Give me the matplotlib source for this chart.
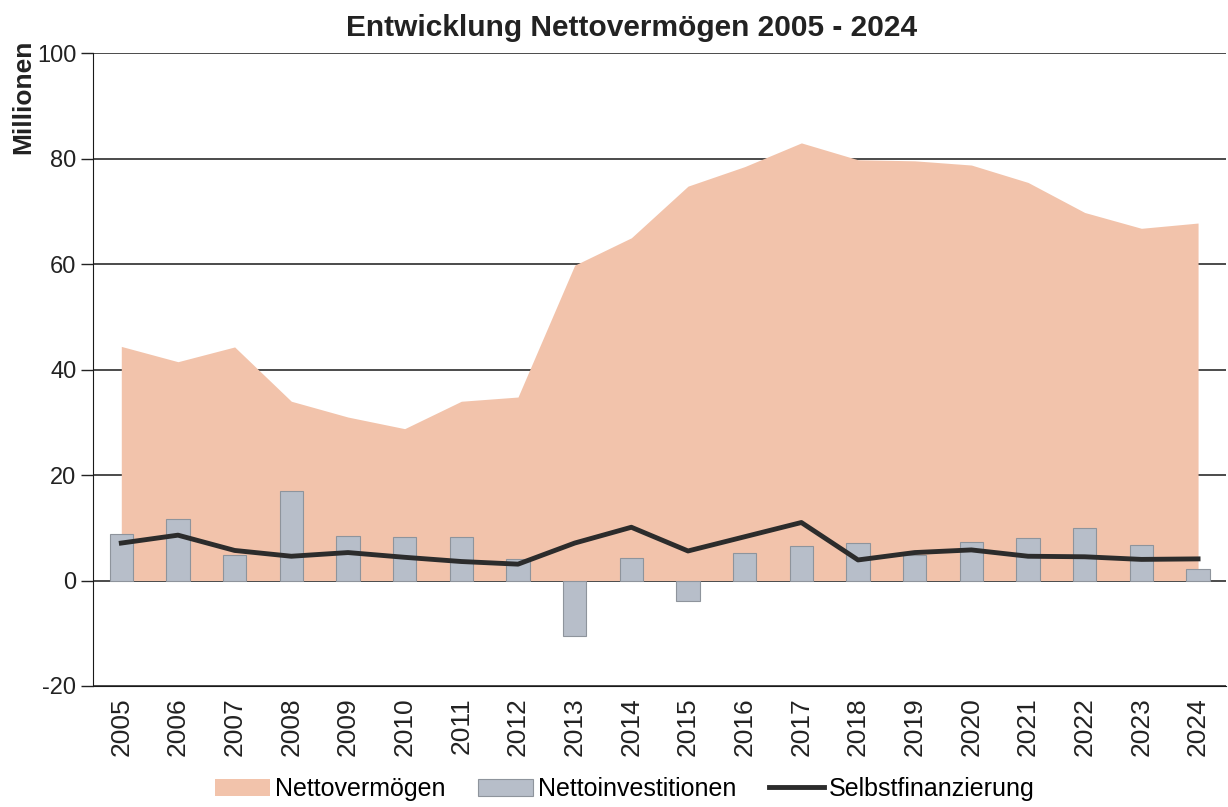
import matplotlib
matplotlib.use("Agg")
import matplotlib.pyplot as plt
import numpy as np

plt.rcParams["font.family"] = ["Liberation Sans", "DejaVu Sans"]
plt.rcParams["axes.unicode_minus"] = False

# Data (Millionen)
years = [str(y) for y in range(2005, 2025)]
nettovermoegen = [44.4, 41.5, 44.3, 34.0, 31.0, 28.8, 34.0, 34.8, 59.8, 65.0,
                  74.8, 78.5, 83.0, 79.8, 79.6, 78.8, 75.5, 69.8, 66.8, 67.8]
nettoinvestitionen = [8.9, 11.6, 4.9, 17.0, 8.4, 8.3, 8.3, 4.1, -10.6, 4.2,
                      -3.9, 5.2, 6.6, 7.1, 4.8, 7.3, 8.1, 10.0, 6.7, 2.2]
selbstfinanzierung = [7.1, 8.6, 5.7, 4.6, 5.3, 4.4, 3.6, 3.1, 7.1, 10.1,
                      5.6, 8.3, 11.0, 3.9, 5.3, 5.8, 4.6, 4.5, 4.0, 4.1]
y_ticks = [-20, 0, 20, 40, 60, 80, 100]


def plot_chart() -> None:
    fig = plt.figure(figsize=(12.28, 8.07), dpi=100)
    ax = fig.add_axes([0.0757, 0.150, 0.923, 0.784])

    x = np.arange(len(years))

    # Area, bars and line
    area = ax.fill_between(x, 0, nettovermoegen, color="#f2c3ab",
                           linewidth=0, zorder=2, label="Nettovermögen")
    bars = ax.bar(x, nettoinvestitionen, width=0.41, color="#b7bec9",
                  edgecolor="#8e949c", linewidth=0.8, zorder=3,
                  label="Nettoinvestitionen")
    line, = ax.plot(x, selbstfinanzierung, color="#2c2c2c", linewidth=3.5,
                    zorder=4, label="Selbstfinanzierung")

    # Axes styling
    ax.set_xlim(-0.5, len(years) - 0.5)
    ax.set_ylim(-20, 100)
    ax.set_yticks(y_ticks)
    ax.set_xticks(x)
    ax.set_xticklabels(years, rotation=90, fontsize=19, color="#222222")
    ax.tick_params(axis="y", labelsize=17, length=9, width=1,
                   colors="#222222", pad=3)
    ax.tick_params(axis="x", length=0, pad=8)
    ax.yaxis.grid(True, color="#1a1a1a", linewidth=1.1)
    ax.set_axisbelow(True)
    for side in ["top", "right"]:
        ax.spines[side].set_visible(False)
    ax.spines["left"].set_color("#1a1a1a")
    ax.spines["bottom"].set_color("#1a1a1a")

    # Titles
    fig.text(0.514, 0.965, "Entwicklung Nettovermögen 2005 - 2024",
             ha="center", va="center", fontsize=21.5, fontweight="bold",
             color="#222222")
    fig.text(0.019, 0.88, "Millionen", rotation=90, ha="center",
             va="center", fontsize=19, fontweight="bold", color="#222222")

    fig.legend([area, bars, line],
               ["Nettovermögen", "Nettoinvestitionen", "Selbstfinanzierung"],
               loc="center", bbox_to_anchor=(0.509, 0.022), ncol=3,
               frameon=False, fontsize=18, handlelength=2.2,
               handletextpad=0.2, columnspacing=1.3)

    fig.savefig("out.png", dpi=100)
    plt.close(fig)


if __name__ == "__main__":
    plot_chart()
